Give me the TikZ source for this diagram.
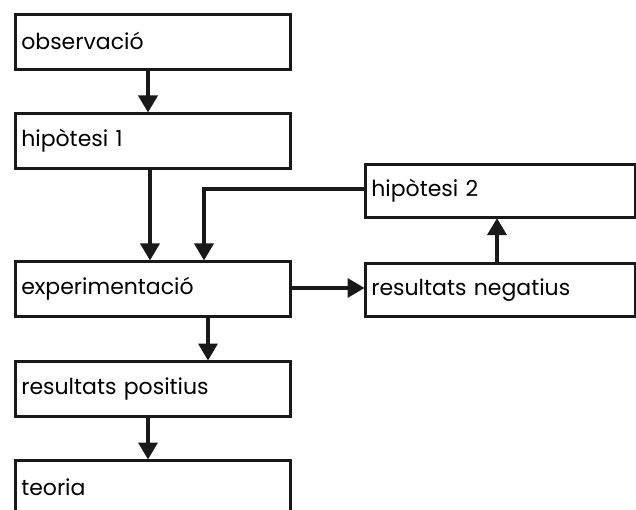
\documentclass[tikz,border=0pt]{standalone}
\usepackage{fontspec}
\setmainfont{Poppins}
\usetikzlibrary{arrows.meta}
\begin{document}
\begin{tikzpicture}[x=1pt,y=-1pt,
  box/.style={draw=black!90, line width=2.6pt, fill=white, rectangle, anchor=north west,
    minimum height=#1, text width=263pt, inner xsep=6pt, inner ysep=0pt, align=left,
    font=\fontsize{22}{24}\selectfont},
  box/.default=55pt,
  arr/.style={draw=black!90, line width=3.6pt, -{Triangle[width=19pt,length=17pt]}, shorten >=-0.5pt}]
\useasboundingbox (0,0) rectangle (636,510);
\node[box] (obs) at (14,13) {\raisebox{2pt}{observació}};
\node[box] (hyp1) at (14,112) {\raisebox{2pt}{hipòtesi 1}};
\node[box] (exp) at (14,260) {\raisebox{2pt}{experimentació}};
\node[box] (pos) at (14,360) {\raisebox{2pt}{resultats positius}};
\node[box] (teo) at (14,459) {\raisebox{2pt}{teoria}};
\node[box=53pt, text width=258pt] (hyp2) at (364,163) {\raisebox{2pt}{hipòtesi 2}};
\node[box=53pt, text width=258pt] (neg) at (364,262) {\raisebox{2pt}{resultats negatius}};
\draw[arr] (obs.south -| 148,0) -- (hyp1.north -| 148,0);
\draw[arr] (hyp1.south -| 150,0) -- (exp.north -| 150,0);
\draw[arr] (hyp2.west |- 0,189) -- (204,189) -- (exp.north -| 204,0);
\draw[arr] (exp.east |- 0,288) -- (neg.west |- 0,288);
\draw[arr] (exp.south -| 208,0) -- (pos.north -| 208,0);
\draw[arr] (pos.south -| 148,0) -- (teo.north -| 148,0);
\draw[arr] (neg.north -| 497,0) -- (hyp2.south -| 497,0);
\end{tikzpicture}
\end{document}
